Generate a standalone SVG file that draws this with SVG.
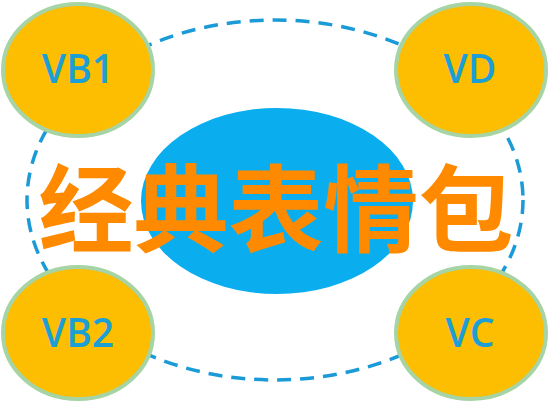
<svg xmlns="http://www.w3.org/2000/svg" width="550" height="402" viewBox="0 0 550 402">
<style>
.node ellipse{fill:#fdbd00;stroke:#a6d4a4;stroke-width:4}
.node text{font-family:"Open Sans","Liberation Sans",sans-serif;font-size:39px;font-weight:600;fill:#1c9fd6;text-anchor:middle}
.ring{fill:none;stroke:#1a9ad6;stroke-width:3.5;stroke-dasharray:14 9}
.title{font-family:"Noto Sans CJK SC","Noto Sans",sans-serif;font-size:95px;font-weight:700;fill:#ff8a00;text-anchor:middle}
</style>
<rect width="550" height="402" fill="#ffffff"/>
<g id="connectors">
<ellipse class="ring" cx="275" cy="200" rx="248" ry="180"/>
</g>
<g id="center">
<ellipse cx="277" cy="201" rx="136" ry="93" fill="#0aaeee"/>
</g>
<g id="VB1" class="node">
<ellipse cx="78" cy="70" rx="75" ry="66"/>
<text x="78" y="83">VB1</text>
</g>
<g id="VD" class="node">
<ellipse cx="471" cy="70" rx="75" ry="66"/>
<text x="470" y="83">VD</text>
</g>
<g id="VB2" class="node">
<ellipse cx="78" cy="333" rx="75" ry="66"/>
<text x="78" y="347">VB2</text>
</g>
<g id="VC" class="node">
<ellipse cx="471" cy="333" rx="75" ry="66"/>
<text x="470" y="347">VC</text>
</g>
<g id="title">
<text class="title" x="276" y="245">经典表情包</text>
</g>
</svg>
